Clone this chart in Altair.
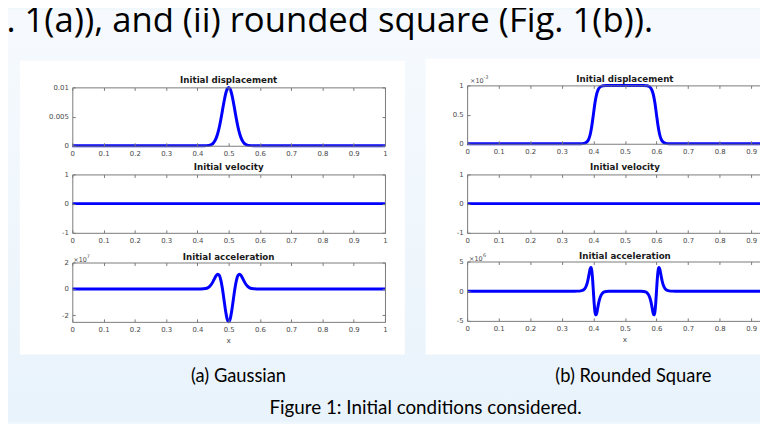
import altair as alt
import pandas as pd

W, H = 760, 416
PAGE = 8  # chart origin offset on the page


def px(v):
    return v - PAGE


BLUE = "#0000ff"
AXIS_GRAY = "#7a7a7a"
LABEL_GRAY = "#4a4a4a"
FIG_FONT = "DejaVu Sans"
SLIDE_FONT = "Lato"

# ---------------- data ----------------
x_ticks = [0, 0.1, 0.2, 0.3, 0.4, 0.5, 0.6, 0.7, 0.8, 0.9, 1]

# (a) Gaussian
g_disp_x = [0, 0.40, 0.42, 0.43, 0.435, 0.44, 0.445, 0.45, 0.455, 0.46, 0.465, 0.47, 0.475, 0.48,
            0.485, 0.49, 0.495, 0.50, 0.505, 0.51, 0.515, 0.52, 0.525, 0.53, 0.535, 0.54, 0.545,
            0.55, 0.555, 0.56, 0.565, 0.57, 0.58, 0.60, 1]
g_disp_y = [0, 0, 0.000003, 0.000019, 0.000046, 0.000101, 0.000211, 0.000412, 0.000756, 0.0013,
            0.0021, 0.00317, 0.00451, 0.0060, 0.0075, 0.0088, 0.00969, 0.0100, 0.00969, 0.0088,
            0.0075, 0.0060, 0.00451, 0.00317, 0.0021, 0.0013, 0.000756, 0.000412, 0.000211,
            0.000101, 0.000046, 0.000019, 0.000003, 0, 0]
g_vel_x = [0, 1]
g_vel_y = [0, 0]
g_acc_x = [0, 0.41, 0.42, 0.43, 0.435, 0.44, 0.445, 0.45, 0.455, 0.46, 0.465, 0.47, 0.475, 0.48,
           0.485, 0.49, 0.495, 0.50, 0.505, 0.51, 0.515, 0.52, 0.525, 0.53, 0.535, 0.54, 0.545,
           0.55, 0.555, 0.56, 0.565, 0.57, 0.58, 0.59, 1]
g_acc_y = [0, 0, 0.01, 0.05, 0.11, 0.21, 0.35, 0.55, 0.79, 1.00, 1.12, 1.03, 0.67, 0.03, -0.80,
           -1.64, -2.27, -2.50, -2.27, -1.64, -0.80, 0.03, 0.67, 1.03, 1.12, 1.00, 0.79, 0.55,
           0.35, 0.21, 0.11, 0.05, 0.01, 0, 0]

# (b) Rounded square
s_disp_x = [0, 0.35, 0.36, 0.37, 0.375, 0.38, 0.385, 0.39, 0.395, 0.40, 0.405, 0.41, 0.415, 0.42,
            0.425, 0.43, 0.44, 0.45, 0.55, 0.56, 0.57, 0.575, 0.58, 0.585, 0.59, 0.595, 0.60,
            0.605, 0.61, 0.615, 0.62, 0.625, 0.63, 0.64, 0.65, 1]
s_disp_y = [0, 0.0002, 0.0013, 0.0067, 0.015, 0.034, 0.076, 0.159, 0.303, 0.5, 0.697, 0.841,
            0.924, 0.966, 0.985, 0.993, 0.9987, 0.9998, 0.9998, 0.9987, 0.993, 0.985, 0.966,
            0.924, 0.841, 0.697, 0.5, 0.303, 0.159, 0.076, 0.034, 0.015, 0.0067, 0.0013, 0.0002, 0]
s_vel_x = [0, 1]
s_vel_y = [0, 0]
s_acc_x = [0, 0.34, 0.35, 0.36, 0.365, 0.37, 0.375, 0.38, 0.3825, 0.385, 0.3875, 0.39, 0.3925,
           0.395, 0.3975, 0.40, 0.4025, 0.405, 0.4075, 0.41, 0.4125, 0.415, 0.4175, 0.42, 0.425,
           0.43, 0.435, 0.44, 0.45, 0.46, 0.54, 0.55, 0.56, 0.565, 0.57, 0.575, 0.58, 0.5825,
           0.585, 0.5875, 0.59, 0.5925, 0.595, 0.5975, 0.60, 0.6025, 0.605, 0.6075, 0.61, 0.6125,
           0.615, 0.6175, 0.62, 0.625, 0.63, 0.635, 0.64, 0.65, 0.66, 1]
s_acc_y = [0, 0, 0.01, 0.05, 0.12, 0.27, 0.61, 1.29, 1.81, 2.47, 3.19, 3.79, 3.99, 3.46, 2.04, 0,
           -2.04, -3.46, -3.99, -3.79, -3.19, -2.47, -1.81, -1.29, -0.61, -0.27, -0.12, -0.05,
           -0.01, 0, 0, -0.01, -0.05, -0.12, -0.27, -0.61, -1.29, -1.81, -2.47, -3.19, -3.79,
           -3.99, -3.46, -2.04, 0, 2.04, 3.46, 3.99, 3.79, 3.19, 2.47, 1.81, 1.29, 0.61, 0.27,
           0.12, 0.05, 0.01, 0, 0]

titles = ["Initial displacement", "Initial velocity", "Initial acceleration"]
left_ydoms = [[0, 0.01], [-1, 1], [-2.5, 2]]
left_yticks = [[0, 0.005, 0.01], [-1, 0, 1], [-2, 0, 2]]
right_ydoms = [[0, 1], [-1, 1], [-5, 5]]
right_yticks = [[0, 0.5, 1], [-1, 0, 1], [-5, 0, 5]]

top_text = ". 1(a)), and (ii) rounded square (Fig. 1(b))."
cap_a = "(a) Gaussian"
cap_b = "(b) Rounded Square"
fig_caption = "Figure 1: Initial conditions considered."

# ---------------- layout (page pixels) ----------------
LEFT_X = (73, 389)
RIGHT_X = (472, 791)
LEFT_ROWS = [(86, 145), (174, 233), (263, 323)]
RIGHT_ROWS = [(84, 143), (174, 233), (262, 322)]

AX = dict(
    grid=False, domainColor=AXIS_GRAY, domainWidth=1, tickColor=AXIS_GRAY, tickWidth=1,
    tickSize=alt.ExprRef(expr="-3"), labelFont=FIG_FONT, labelFontSize=7,
    labelColor=LABEL_GRAY, labelFlush=False, labelOverlap=False, title="", zindex=1,
    labelExpr="replace(datum.label, '\u2212', '-')",
)


def one(**kw):
    return pd.DataFrame({k: [v] for k, v in kw.items()})


def panel(xs, ys, xr, yr, ydom, yticks):
    x0, x1 = px(xr[0]), px(xr[1])
    yt, yb = px(yr[0]), px(yr[1])
    xsc = alt.Scale(domain=[0, 1], range=[x0, x1], nice=False, zero=False)
    ysc = alt.Scale(domain=ydom, range=[yb, yt], nice=False, zero=False)
    df = pd.DataFrame({"x": xs, "y": ys})
    line = alt.Chart(df).mark_line(color=BLUE, strokeWidth=3, interpolate="monotone").encode(
        x=alt.X("x:Q", scale=xsc, axis=alt.Axis(orient="bottom", offset=-(H - yb), values=x_ticks,
                                                 format="~g", labelPadding=7, **AX)),
        y=alt.Y("y:Q", scale=ysc, axis=alt.Axis(orient="left", offset=-x0, values=yticks,
                                                 format="~g", labelPadding=7, **AX)),
    )
    box_df = pd.DataFrame({"x": [0, 1], "y": ydom})
    box = alt.Chart(box_df).mark_point(opacity=0).encode(
        x=alt.X("x:Q", scale=xsc, axis=alt.Axis(orient="top", offset=-yt, values=x_ticks,
                                                 labels=False, **AX)),
        y=alt.Y("y:Q", scale=ysc, axis=alt.Axis(orient="right", offset=-(W - x1), values=yticks,
                                                 labels=False, **AX)),
    )
    return [line, box]


def text(t, x, y, size, font, color="#000000", weight="normal", align="center",
         baseline="alphabetic"):
    return alt.Chart(one(t=t)).mark_text(
        font=font, fontSize=size, color=color, fontWeight=weight, align=align, baseline=baseline
    ).encode(text="t:N", x=alt.value(px(x)), y=alt.value(px(y)))


layers = []

# slide background
bg = alt.Chart(one(a=1)).mark_rect(
    fill=alt.Gradient(gradient="linear",
                      stops=[alt.GradientStop(color="#F6FAFE", offset=0),
                             alt.GradientStop(color="#E9F3FB", offset=1)],
                      x1=0, x2=0, y1=0, y2=1)
).encode(x=alt.value(0), x2=alt.value(W), y=alt.value(0), y2=alt.value(H))
layers.append(bg)

# white figure areas
for (xa, xb, ya, yb_) in [(20, 409, 59, 356), (430, 800, 57, 356)]:
    layers.append(alt.Chart(one(a=1)).mark_rect(fill="#ffffff").encode(
        x=alt.value(px(xa)), x2=alt.value(px(xb)), y=alt.value(px(ya)), y2=alt.value(px(yb_))))

left_data = [(g_disp_x, g_disp_y), (g_vel_x, g_vel_y), (g_acc_x, g_acc_y)]
right_data = [(s_disp_x, s_disp_y), (s_vel_x, s_vel_y), (s_acc_x, s_acc_y)]

for i in range(3):
    layers += panel(*left_data[i], LEFT_X, LEFT_ROWS[i], left_ydoms[i], left_yticks[i])
    layers += panel(*right_data[i], RIGHT_X, RIGHT_ROWS[i], right_ydoms[i], right_yticks[i])

# panel titles
left_title_y = [79, 167, 257]
right_title_y = [78, 167, 256]
for i in range(3):
    layers.append(text(titles[i], (LEFT_X[0] + LEFT_X[1]) / 2, left_title_y[i], 8.8, FIG_FONT,
                       color="#1a1a1a", weight="bold", baseline="middle"))
    layers.append(text(titles[i], (RIGHT_X[0] + RIGHT_X[1]) / 2, right_title_y[i], 8.8, FIG_FONT,
                       color="#1a1a1a", weight="bold", baseline="middle"))

# exponent labels
layers.append(text("\u00d710", 74, 262, 6.5, FIG_FONT, LABEL_GRAY, align="left"))
layers.append(text("7", 87.5, 258, 5, FIG_FONT, LABEL_GRAY, align="left"))
layers.append(text("\u00d710", 475, 82, 6.5, FIG_FONT, LABEL_GRAY, align="left"))
layers.append(text("-3", 488.5, 78, 5, FIG_FONT, LABEL_GRAY, align="left"))
layers.append(text("\u00d710", 474, 261.5, 6.5, FIG_FONT, LABEL_GRAY, align="left"))
layers.append(text("6", 488, 257.5, 5, FIG_FONT, LABEL_GRAY, align="left"))

# x axis titles
layers.append(text("x", (LEFT_X[0] + LEFT_X[1]) / 2, 342, 7.5, FIG_FONT, LABEL_GRAY,
                   baseline="middle"))
layers.append(text("x", (RIGHT_X[0] + RIGHT_X[1]) / 2, 341, 7.5, FIG_FONT, LABEL_GRAY,
                   baseline="middle"))

# slide texts
layers.append(text(top_text, 660, 30, 35, "Open Sans", align="right"))
layers.append(text(cap_a, 241, 384, 18.5, SLIDE_FONT))
layers.append(text(cap_b, 640, 384, 18.5, SLIDE_FONT))
layers.append(text(fig_caption, 430, 416, 19, SLIDE_FONT))

chart = alt.layer(*layers).resolve_scale(x="independent", y="independent").resolve_axis(
    x="independent", y="independent"
).properties(
    width=W, height=H, autosize=alt.AutoSizeParams(type="none"), padding=0,
    background="#F1F8FD",
).configure_view(stroke=None)

chart.save("out.html", embed_options={"renderer": "svg", "actions": False})
